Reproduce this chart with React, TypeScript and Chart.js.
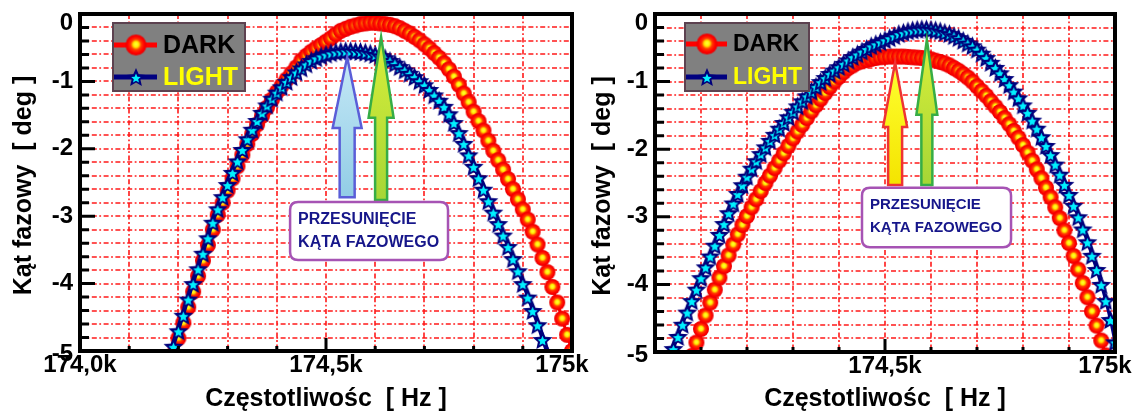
import React, { useEffect, useRef } from 'react';
import { Chart, registerables } from 'chart.js';

Chart.register(...registerables);

const FONT = '"Liberation Sans", Arial, Helvetica, sans-serif';

// ---------- DATA (left panel) ----------
const LEFT_FREQ = [
  174180, 174190, 174200, 174210, 174220, 174230, 174240, 174250, 174260, 174270,
  174280, 174290, 174300, 174310, 174320, 174330, 174340, 174350, 174360, 174370,
  174380, 174390, 174400, 174410, 174420, 174430, 174440, 174450, 174460, 174470,
  174480, 174490, 174500, 174510, 174520, 174530, 174540, 174550, 174560, 174570,
  174580, 174590, 174600, 174610, 174620, 174630, 174640, 174650, 174660, 174670,
  174680, 174690, 174700, 174710, 174720, 174730, 174740, 174750, 174760, 174770,
  174780, 174790, 174800, 174810, 174820, 174830, 174840, 174850, 174860, 174870,
  174880, 174890, 174900, 174910, 174920, 174930, 174940, 174950, 174960, 174970,
  174980, 174990, 175000,
];
const LEFT_DARK = [
  -5.29, -5.05, -4.81, -4.58, -4.35, -4.12, -3.89, -3.66, -3.43, -3.2,
  -2.98, -2.8, -2.62, -2.44, -2.26, -2.09, -1.93, -1.78, -1.64, -1.51,
  -1.39, -1.27, -1.16, -1.06, -0.97, -0.88, -0.79, -0.69, -0.62, -0.56,
  -0.51, -0.46, -0.41, -0.36, -0.3, -0.25, -0.22, -0.19, -0.17, -0.15,
  -0.14, -0.13, -0.13, -0.14, -0.15, -0.16, -0.18, -0.21, -0.25, -0.29,
  -0.34, -0.39, -0.45, -0.51, -0.58, -0.65, -0.73, -0.82, -0.93, -1.05,
  -1.18, -1.31, -1.45, -1.59, -1.73, -1.88, -2.03, -2.17, -2.31, -2.45,
  -2.6, -2.75, -2.9, -3.05, -3.23, -3.42, -3.62, -3.83, -4.05, -4.28,
  -4.52, -4.76, -5.0,
];
const LEFT_LIGHT = [
  -5.17, -4.93, -4.7, -4.47, -4.23, -4.0, -3.78, -3.55, -3.32, -3.09,
  -2.89, -2.71, -2.53, -2.35, -2.18, -2.01, -1.85, -1.71, -1.58, -1.46,
  -1.35, -1.25, -1.16, -1.08, -1.0, -0.93, -0.86, -0.8, -0.74, -0.69,
  -0.65, -0.62, -0.595, -0.575, -0.56, -0.55, -0.545, -0.545, -0.55, -0.555,
  -0.565, -0.58, -0.6, -0.62, -0.65, -0.69, -0.73, -0.78, -0.83, -0.88,
  -0.93, -0.99, -1.05, -1.12, -1.2, -1.28, -1.37, -1.48, -1.61, -1.76,
  -1.92, -2.09, -2.26, -2.43, -2.6, -2.77, -2.94, -3.11, -3.28, -3.45,
  -3.63, -3.81, -4.0, -4.2, -4.4, -4.61, -4.83, -5.05, null, null,
  null, null, null,
];

// ---------- DATA (right panel) ----------
const RIGHT_FREQ = [
  174030, 174040, 174050, 174060, 174070, 174080, 174090, 174100, 174110, 174120,
  174130, 174140, 174150, 174160, 174170, 174180, 174190, 174200, 174210, 174220,
  174230, 174240, 174250, 174260, 174270, 174280, 174290, 174300, 174310, 174320,
  174330, 174340, 174350, 174360, 174370, 174380, 174390, 174400, 174410, 174420,
  174430, 174440, 174450, 174460, 174470, 174480, 174490, 174500, 174510, 174520,
  174530, 174540, 174550, 174560, 174570, 174580, 174590, 174600, 174610, 174620,
  174630, 174640, 174650, 174660, 174670, 174680, 174690, 174700, 174710, 174720,
  174730, 174740, 174750, 174760, 174770, 174780, 174790, 174800, 174810, 174820,
  174830, 174840, 174850, 174860, 174870, 174880, 174890, 174900, 174910, 174920,
  174930, 174940, 174950, 174960, 174970, 174980, 174990, 175000,
];
const RIGHT_DARK = [
  null, null, null, null, -5.26, -5.06, -4.86, -4.66, -4.46, -4.27,
  -4.08, -3.9, -3.73, -3.57, -3.41, -3.26, -3.12, -2.99, -2.86, -2.74,
  -2.62, -2.5, -2.39, -2.28, -2.17, -2.06, -1.95, -1.84, -1.74, -1.64,
  -1.54, -1.44, -1.35, -1.26, -1.17, -1.08, -1.0, -0.93, -0.86, -0.8,
  -0.76, -0.72, -0.7, -0.68, -0.665, -0.65, -0.64, -0.635, -0.63, -0.63,
  -0.63, -0.63, -0.635, -0.64, -0.645, -0.65, -0.66, -0.67, -0.69, -0.71,
  -0.73, -0.76, -0.8, -0.84, -0.89, -0.94, -1.0, -1.07, -1.14, -1.21,
  -1.29, -1.37, -1.45, -1.54, -1.63, -1.73, -1.83, -1.94, -2.05, -2.17,
  -2.3, -2.43, -2.57, -2.71, -2.86, -3.02, -3.2, -3.39, -3.58, -3.78,
  -3.98, -4.19, -4.4, -4.61, -4.83, -5.05, -5.28, -5.5,
];
const RIGHT_LIGHT = [
  -5.12, -4.95, -4.77, -4.59, -4.41, -4.24, -4.07, -3.9, -3.74, -3.58,
  -3.42, -3.26, -3.1, -2.94, -2.795, -2.655, -2.525, -2.4, -2.28, -2.17,
  -2.065, -1.965, -1.87, -1.78, -1.69, -1.605, -1.52, -1.44, -1.36, -1.285,
  -1.21, -1.14, -1.07, -1.0, -0.94, -0.88, -0.83, -0.78, -0.73, -0.68,
  -0.63, -0.59, -0.55, -0.51, -0.47, -0.44, -0.41, -0.38, -0.35, -0.32,
  -0.29, -0.27, -0.25, -0.235, -0.225, -0.22, -0.22, -0.225, -0.235, -0.25,
  -0.27, -0.29, -0.32, -0.35, -0.39, -0.43, -0.47, -0.52, -0.58, -0.645,
  -0.715, -0.79, -0.87, -0.955, -1.045, -1.14, -1.24, -1.345, -1.455, -1.57,
  -1.69, -1.815, -1.945, -2.08, -2.22, -2.37, -2.52, -2.67, -2.83, -3.0,
  -3.18, -3.37, -3.57, -3.78, -4.0, -4.24, -4.52, -4.85,
];

// ---------- Axis / text ----------
const SERIES_NAMES = ['DARK', 'LIGHT'];
const X_MIN = 174000;
const X_MAX = 175000;
const Y_MIN = -5;
const Y_MAX = 0;
const X_STEP = 100;
const Y_STEP = 0.2;
const LEFT_X_LABEL_VALUES = [174000, 174500, 175000];
const LEFT_X_LABELS = ['174,0k', '174,5k', '175k'];
const RIGHT_X_LABEL_VALUES = [174500, 175000];
const RIGHT_X_LABELS = ['174,5k', '175k'];
const Y_LABEL_VALUES = [0, -1, -2, -3, -4, -5];
const Y_LABELS = ['0', '-1', '-2', '-3', '-4', '-5'];
const X_TITLE = 'Częstotliwośc  [ Hz ]';
const Y_TITLE = 'Kąt fazowy  [ deg ]';
const NOTE_LINES = ['PRZESUNIĘCIE', 'KĄTA FAZOWEGO'];

// ---------- Annotations (data coordinates) ----------
const LEFT_ARROWS = [
  { f: 174543, tip: -0.64, head: -1.69, bottom: -2.72, hh: 14.5, sh: 7.5, fill: ['#c4e8f6', '#92cde6'], stroke: '#5a5ed8' },
  { f: 174612, tip: -0.34, head: -1.54, bottom: -2.76, hh: 12.5, sh: 6, fill: ['#d8ee3a', '#a6d636'], stroke: '#36ad45' },
];
const LEFT_NOTE = { f0: 174427, f1: 174748, v0: -2.79, v1: -3.65 };
const RIGHT_ARROWS = [
  { f: 174522, tip: -0.72, head: -1.67, bottom: -2.53, hh: 12, sh: 7, fill: ['#ffff30', '#f4e400'], stroke: '#ee3333' },
  { f: 174591, tip: -0.38, head: -1.49, bottom: -2.53, hh: 10.5, sh: 5.5, fill: ['#d8ee3a', '#a6d636'], stroke: '#36ad45' },
];
const RIGHT_NOTE = { f0: 174450, f1: 174774, v0: -2.57, v1: -3.45 };

// ---------- marker images ----------
function makeDarkMarker(r: number) {
  const s = Math.ceil(r * 2) + 2;
  const c = document.createElement('canvas');
  c.width = s;
  c.height = s;
  const g = c.getContext('2d')!;
  const cx = s / 2, cy = s / 2;
  const grad = g.createRadialGradient(cx, cy - r * 0.08, 0, cx, cy, r);
  grad.addColorStop(0, '#ffff40');
  grad.addColorStop(0.26, '#ffee00');
  grad.addColorStop(0.5, '#ff3a00');
  grad.addColorStop(0.78, '#ff0000');
  grad.addColorStop(1, '#e60000');
  g.fillStyle = grad;
  g.beginPath();
  g.arc(cx, cy, r, 0, Math.PI * 2);
  g.fill();
  return c;
}

function starPath(g: CanvasRenderingContext2D, cx: number, cy: number, R: number, r: number) {
  g.beginPath();
  for (let i = 0; i < 10; i++) {
    const ang = -Math.PI / 2 + (i * Math.PI) / 5;
    const rad = i % 2 === 0 ? R : r;
    const x = cx + rad * Math.cos(ang);
    const y = cy + rad * Math.sin(ang);
    if (i === 0) g.moveTo(x, y);
    else g.lineTo(x, y);
  }
  g.closePath();
}

function makeLightMarker(R: number) {
  const s = Math.ceil(R * 2) + 2;
  const c = document.createElement('canvas');
  c.width = s;
  c.height = s;
  const g = c.getContext('2d')!;
  const cx = s / 2, cy = s / 2 + R * 0.1;
  g.fillStyle = '#00007c';
  starPath(g, cx, cy, R, R * 0.46);
  g.fill();
  g.fillStyle = '#00f0ff';
  starPath(g, cx, cy + R * 0.05, R * 0.5, R * 0.23);
  g.fill();
  return c;
}

function pairs(fs: number[], vs: (number | null)[]) {
  const out: { x: number; y: number }[] = [];
  fs.forEach((f, i) => {
    const v = vs[i];
    if (v !== null && v !== undefined) out.push({ x: f, y: v });
  });
  return out;
}

function drawArrow(ctx: CanvasRenderingContext2D, x: number, yTip: number, yHead: number, yBottom: number, hh: number, sh: number, fill: string[], stroke: string) {
  ctx.save();
  ctx.beginPath();
  ctx.moveTo(x, yTip);
  ctx.lineTo(x + hh, yHead);
  ctx.lineTo(x + sh, yHead);
  ctx.lineTo(x + sh, yBottom);
  ctx.lineTo(x - sh, yBottom);
  ctx.lineTo(x - sh, yHead);
  ctx.lineTo(x - hh, yHead);
  ctx.closePath();
  const grad = ctx.createLinearGradient(0, yTip, 0, yBottom);
  grad.addColorStop(0, fill[0]);
  grad.addColorStop(1, fill[1]);
  ctx.fillStyle = grad;
  ctx.fill();
  ctx.lineWidth = 2.5;
  ctx.lineJoin = 'miter';
  ctx.strokeStyle = stroke;
  ctx.stroke();
  ctx.restore();
}

function roundRect(ctx: CanvasRenderingContext2D, x: number, y: number, w: number, h: number, r: number) {
  ctx.beginPath();
  ctx.moveTo(x + r, y);
  ctx.lineTo(x + w - r, y);
  ctx.quadraticCurveTo(x + w, y, x + w, y + r);
  ctx.lineTo(x + w, y + h - r);
  ctx.quadraticCurveTo(x + w, y + h, x + w - r, y + h);
  ctx.lineTo(x + r, y + h);
  ctx.quadraticCurveTo(x, y + h, x, y + h - r);
  ctx.lineTo(x, y + r);
  ctx.quadraticCurveTo(x, y, x + r, y);
  ctx.closePath();
}

type PanelCfg = {
  id: string;
  left: number;
  width: number;
  yAxisWidth: number;
  xAxisHeight: number;
  padRight: number;
  freq: number[];
  dark: (number | null)[];
  light: (number | null)[];
  xLabelValues: number[];
  xLabels: string[];
  arrows: typeof LEFT_ARROWS;
  note: typeof LEFT_NOTE;
  noteFont: number;
  noteLine1: number;
  noteLine2: number;
  legend: { dx: number; dy: number; w: number; h: number; font: number; textDx: number; markerDx: number; lineLen: number; rows: number[] };
  yTitleX: number;
};

const PANELS: PanelCfg[] = [
  {
    id: 'left', left: 0, width: 600, yAxisWidth: 80, xAxisHeight: 60, padRight: 28,
    freq: LEFT_FREQ, dark: LEFT_DARK, light: LEFT_LIGHT,
    xLabelValues: LEFT_X_LABEL_VALUES, xLabels: LEFT_X_LABELS,
    arrows: LEFT_ARROWS, note: LEFT_NOTE, noteFont: 16, noteLine1: 18, noteLine2: 41,
    legend: { dx: 33, dy: 9, w: 132, h: 68, font: 25, textDx: 50, markerDx: 23, lineLen: 44, rows: [22, 54] },
    yTitleX: 24,
  },
  {
    id: 'right', left: 580, width: 555, yAxisWidth: 75, xAxisHeight: 59, padRight: 20,
    freq: RIGHT_FREQ, dark: RIGHT_DARK, light: RIGHT_LIGHT,
    xLabelValues: RIGHT_X_LABEL_VALUES, xLabels: RIGHT_X_LABELS,
    arrows: RIGHT_ARROWS, note: RIGHT_NOTE, noteFont: 15, noteLine1: 17, noteLine2: 40,
    legend: { dx: 30, dy: 9, w: 124, h: 68, font: 23, textDx: 48, markerDx: 22, lineLen: 42, rows: [21, 54] },
    yTitleX: 23,
  },
];

function makeDecor(cfg: PanelCfg, legendDark: HTMLCanvasElement, legendLight: HTMLCanvasElement) {
  return {
    id: 'decor-' + cfg.id,
    beforeDatasetsDraw(chart: any) {
      const { ctx, chartArea: a, scales } = chart;
      const xs = scales.x, ys = scales.y;
      ctx.save();
      ctx.strokeStyle = '#ff1a1a';
      ctx.lineWidth = 1.6;
      ctx.setLineDash([5, 2.5, 1.8, 2.5]);
      ctx.beginPath();
      xs.ticks.forEach((t: any) => {
        const px = Math.round(xs.getPixelForValue(t.value));
        ctx.moveTo(px, a.top);
        ctx.lineTo(px, a.bottom);
      });
      ys.ticks.forEach((t: any) => {
        const py = Math.round(ys.getPixelForValue(t.value));
        ctx.moveTo(a.left, py);
        ctx.lineTo(a.right, py);
      });
      ctx.stroke();
      ctx.restore();
    },
    afterDatasetsDraw(chart: any) {
      const { ctx, chartArea: a, scales } = chart;
      const xs = scales.x, ys = scales.y;
      ctx.save();

      // annotations: arrows and note box
      cfg.arrows.forEach((ar) => {
        drawArrow(ctx, xs.getPixelForValue(ar.f), ys.getPixelForValue(ar.tip), ys.getPixelForValue(ar.head), ys.getPixelForValue(ar.bottom), ar.hh, ar.sh, ar.fill, ar.stroke);
      });
      const nx0 = xs.getPixelForValue(cfg.note.f0), nx1 = xs.getPixelForValue(cfg.note.f1);
      const ny0 = ys.getPixelForValue(cfg.note.v0), ny1 = ys.getPixelForValue(cfg.note.v1);
      roundRect(ctx, nx0, ny0, nx1 - nx0, ny1 - ny0, 8);
      ctx.fillStyle = '#ffffff';
      ctx.fill();
      ctx.lineWidth = 2.5;
      ctx.strokeStyle = '#a653b4';
      ctx.stroke();
      ctx.fillStyle = '#16168a';
      ctx.font = `bold ${cfg.noteFont}px ${FONT}`;
      ctx.textAlign = 'left';
      ctx.textBaseline = 'middle';
      ctx.fillText(NOTE_LINES[0], nx0 + 8, ny0 + cfg.noteLine1);
      ctx.fillText(NOTE_LINES[1], nx0 + 8, ny0 + cfg.noteLine2);

      // frame
      ctx.strokeStyle = '#000000';
      ctx.lineWidth = 4;
      ctx.strokeRect(a.left, a.top, a.right - a.left, a.bottom - a.top);

      // inward ticks
      ctx.lineWidth = 3;
      ctx.beginPath();
      ys.ticks.forEach((t: any) => {
        const py = ys.getPixelForValue(t.value);
        const major = Math.abs(t.value - Math.round(t.value)) < 1e-6;
        ctx.moveTo(a.left, py);
        ctx.lineTo(a.left + (major ? 15 : 9), py);
      });
      xs.ticks.forEach((t: any) => {
        const px = xs.getPixelForValue(t.value);
        const major = Math.abs((t.value - X_MIN) % 500) < 1e-6;
        ctx.moveTo(px, a.bottom);
        ctx.lineTo(px, a.bottom - (major ? 13 : 5));
      });
      ctx.stroke();

      // tick labels
      ctx.fillStyle = '#000000';
      ctx.font = `bold 24px ${FONT}`;
      ctx.textAlign = 'right';
      ctx.textBaseline = 'middle';
      Y_LABEL_VALUES.forEach((v, i) => {
        let py = ys.getPixelForValue(v);
        if (v === Y_MAX) py = a.top + 9;
        if (v === Y_MIN) py += 3;
        ctx.fillText(Y_LABELS[i], a.left - 7, py);
      });
      ctx.textAlign = 'center';
      cfg.xLabelValues.forEach((v, i) => {
        let px = xs.getPixelForValue(v);
        if (v === X_MAX) px -= 10;
        ctx.fillText(cfg.xLabels[i], px, a.bottom + 14);
      });

      // axis titles
      ctx.font = `bold 25px ${FONT}`;
      ctx.textBaseline = 'alphabetic';
      ctx.fillText(X_TITLE, (a.left + a.right) / 2, 406);
      ctx.save();
      ctx.translate(cfg.yTitleX, (a.top + a.bottom) / 2 + 3);
      ctx.rotate(-Math.PI / 2);
      ctx.textBaseline = 'middle';
      ctx.fillText(Y_TITLE, 0, 0);
      ctx.restore();

      // legend
      const lg = cfg.legend;
      const bx = a.left + lg.dx, by = a.top + lg.dy;
      ctx.fillStyle = '#808080';
      ctx.fillRect(bx, by, lg.w, lg.h);
      ctx.lineWidth = 2;
      ctx.strokeStyle = '#5c4250';
      ctx.strokeRect(bx, by, lg.w, lg.h);
      const lineColors = ['#ff0000', '#000080'];
      const textColors = ['#000000', '#ffff00'];
      const imgs = [legendDark, legendLight];
      SERIES_NAMES.forEach((name, i) => {
        const ry = by + lg.rows[i];
        ctx.strokeStyle = lineColors[i];
        ctx.lineWidth = 5;
        ctx.beginPath();
        ctx.moveTo(bx + 1, ry);
        ctx.lineTo(bx + lg.lineLen, ry);
        ctx.stroke();
        const im = imgs[i];
        ctx.drawImage(im, bx + lg.markerDx - im.width / 2, ry - im.height / 2);
        ctx.fillStyle = textColors[i];
        ctx.font = `bold ${lg.font}px ${FONT}`;
        ctx.textAlign = 'left';
        ctx.textBaseline = 'middle';
        ctx.fillText(name, bx + lg.textDx, ry + 1);
      });

      ctx.restore();
    },
  };
}

function Panel({ cfg }: { cfg: PanelCfg }) {
  const ref = useRef<HTMLCanvasElement>(null);
  useEffect(() => {
    const darkImg = makeDarkMarker(8);
    const lightImg = makeLightMarker(10.5);
    const legendDark = makeDarkMarker(10.5);
    const legendLight = makeLightMarker(10);
    const chart = new Chart(ref.current!, {
      type: 'line',
      data: {
        datasets: [
          {
            label: SERIES_NAMES[1],
            data: pairs(cfg.freq, cfg.light),
            borderColor: '#000080',
            backgroundColor: '#000080',
            borderWidth: 3,
            pointStyle: lightImg,
            pointRadius: 10,
            order: 0,
          },
          {
            label: SERIES_NAMES[0],
            data: pairs(cfg.freq, cfg.dark),
            borderColor: '#ff0000',
            backgroundColor: '#ff0000',
            borderWidth: 3,
            pointStyle: darkImg,
            pointRadius: 8,
            order: 1,
          },
        ],
      },
      options: {
        responsive: false,
        animation: false,
        devicePixelRatio: 1,
        events: [],
        layout: { padding: { top: 14, right: cfg.padRight, left: 0, bottom: 0 } },
        plugins: { legend: { display: false }, tooltip: { enabled: false } },
        scales: {
          x: {
            type: 'linear',
            min: X_MIN,
            max: X_MAX,
            ticks: { stepSize: X_STEP, display: false },
            grid: { display: false, drawTicks: false },
            border: { display: false },
            afterFit: (s: any) => { s.height = cfg.xAxisHeight; },
          },
          y: {
            type: 'linear',
            min: Y_MIN,
            max: Y_MAX,
            ticks: { stepSize: Y_STEP, display: false },
            grid: { display: false, drawTicks: false },
            border: { display: false },
            afterFit: (s: any) => { s.width = cfg.yAxisWidth; },
          },
        },
      } as any,
      plugins: [makeDecor(cfg, legendDark, legendLight)],
    });
    return () => chart.destroy();
  }, [cfg]);
  return (
    <canvas
      ref={ref}
      width={cfg.width}
      height={411}
      style={{ position: 'absolute', left: cfg.left, top: 0, width: cfg.width, height: 411 }}
    />
  );
}

export default function App() {
  return (
    <div style={{ position: 'absolute', left: 0, top: 0, width: 1135, height: 411, background: '#ffffff', overflow: 'hidden' }}>
      <Panel cfg={PANELS[0]} />
      <Panel cfg={PANELS[1]} />
    </div>
  );
}
